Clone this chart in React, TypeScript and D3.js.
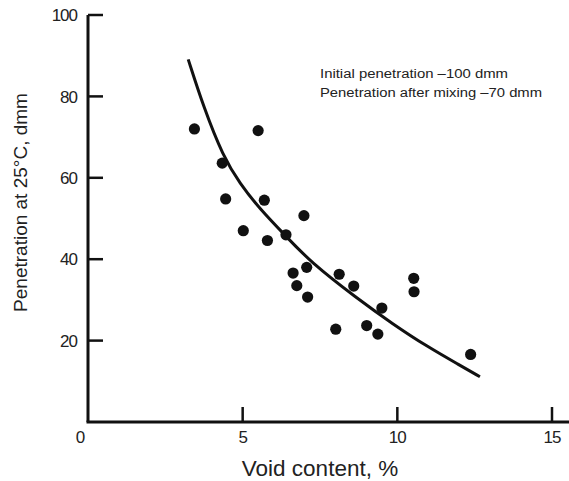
import React from "react";
import * as d3 from "d3";

const voidContent = [3.44, 4.34, 4.45, 5.5, 5.02, 5.7, 5.8, 6.4, 6.98, 7.07, 6.63, 6.75, 7.1, 8.12, 8.59, 8.01, 9.01, 9.37, 9.5, 10.53, 10.54, 12.37];
const penetration = [72.0, 63.6, 54.8, 71.6, 47.0, 54.5, 44.6, 46.0, 50.7, 38.0, 36.6, 33.5, 30.7, 36.3, 33.4, 22.8, 23.7, 21.6, 28.0, 35.3, 32.0, 16.6];

const curveX = [3.24, 3.73, 4.37, 4.91, 5.56, 6.42, 7.18, 8.69, 9.87, 10.95, 12.03, 12.67];
const curveY = [89.1, 77.5, 65.2, 58.6, 52.3, 45.5, 39.4, 30.4, 24.0, 18.6, 13.9, 11.1];

const xTicks = [0, 5, 10, 15];
const yTicks = [20, 40, 60, 80, 100];
const notes = ["Initial penetration \u2013100 dmm", "Penetration after mixing \u201370 dmm"];
const noteWidths = [188, 222];

export default function App() {
  const W = 569, H = 481;
  const x = d3.scaleLinear().domain([0, 15]).range([88, 552]);
  const y = d3.scaleLinear().domain([0, 100]).range([422, 15]);
  const font = "'Liberation Sans', Arial, Helvetica, sans-serif";

  const pts = voidContent.map((v, i) => [v, penetration[i]] as [number, number]);
  const curvePts = curveX.map((v, i) => [v, curveY[i]] as [number, number]);
  const line = d3.line<[number, number]>().x(d => x(d[0])).y(d => y(d[1])).curve(d3.curveBasis);

  return (
    <svg width={W} height={H} style={{ position: "absolute", left: 0, top: 0, background: "#fff" }} fontFamily={font}>
      <rect width={W} height={H} fill="#fff" />
      {/* axes */}
      <line x1={x(0)} x2={x(0)} y1={y(100)} y2={y(0)} stroke="#111" strokeWidth={3} />
      <line x1={x(0) - 1.5} x2={x(15.6)} y1={y(0)} y2={y(0)} stroke="#111" strokeWidth={3} />
      {yTicks.map(t => (
        <g key={"y" + t}>
          <line x1={x(0)} x2={x(0) + 15} y1={y(t)} y2={y(t)} stroke="#111" strokeWidth={2.5} />
          <text x={x(0) - 11} y={y(t)} dy="0.36em" textAnchor="end" fontSize={17} fill="#222" letterSpacing={-1}>{t}</text>
        </g>
      ))}
      {xTicks.map(t => (
        <g key={"x" + t}>
          {t > 0 && <line x1={x(t)} x2={x(t)} y1={y(0)} y2={y(0) - 15} stroke="#111" strokeWidth={2.5} />}
          <text x={t === 0 ? x(t) - 8 : x(t)} y={y(0) + 21} textAnchor="middle" fontSize={17} fill="#222" letterSpacing={-1}>{t}</text>
        </g>
      ))}
      {/* labels */}
      <text x={x(7.5)} y={476} textAnchor="middle" fontSize={22.5} fill="#222">Void content, %</text>
      <text transform={`translate(27, ${y(50) - 16}) rotate(-90)`} textAnchor="middle" fontSize={19} fill="#222">Penetration at 25°C, dmm</text>
      {notes.map((n, i) => (
        <text key={n} x={320} y={78 + i * 19} fontSize={12.5} fill="#222" textLength={noteWidths[i]} lengthAdjust="spacingAndGlyphs">{n}</text>
      ))}
      {/* curve */}
      <path d={line(curvePts) || ""} fill="none" stroke="#111" strokeWidth={3} />
      {/* points */}
      {pts.map((p, i) => (
        <circle key={i} cx={x(p[0])} cy={y(p[1])} r={5.6} fill="#111" />
      ))}
    </svg>
  );
}
